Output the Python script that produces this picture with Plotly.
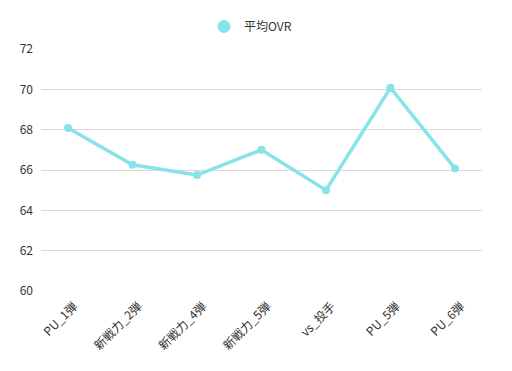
import plotly.graph_objects as go

categories = ["PU_1弾", "新戦力_2弾", "新戦力_4弾", "新戦力_5弾", "vs_投手", "PU_5弾", "PU_6弾"]
avg_ovr = [68.08, 66.26, 65.75, 67.0, 65.0, 70.08, 66.08]
y_ticks = [60, 62, 64, 66, 68, 70, 72]
series_name = "平均OVR"

color = "#86E3E6"
font_family = "Noto Sans CJK JP, Noto Sans, sans-serif"

fig = go.Figure()
fig.add_trace(go.Scatter(
    x=categories, y=avg_ovr, mode="lines+markers", name=series_name,
    line=dict(color=color, width=3.5),
    marker=dict(color=color, size=8),
    showlegend=False,
))
# legend entry shown as a single circle
fig.add_trace(go.Scatter(
    x=[None], y=[None], mode="markers", name=series_name,
    marker=dict(color=color, size=13), showlegend=True,
))

# page body has an 8px default margin, so the figure is sized/margined to compensate
fig.update_layout(
    width=504, height=363,
    margin=dict(l=33, r=30, t=41, b=80, autoexpand=False),
    paper_bgcolor="white", plot_bgcolor="white",
    font=dict(family=font_family, size=12, color="#333"),
    showlegend=True,
    legend=dict(orientation="h", x=0.475, xanchor="center", y=1.033, yanchor="bottom",
                font=dict(size=12, color="#333"), itemsizing="trace"),
    xaxis=dict(showgrid=False, showline=False, zeroline=False, tickangle=-45,
               ticks="", tickfont=dict(size=12, color="#333"), automargin=False,
               ticklabelshift=6, ticklabelstandoff=5),
    yaxis=dict(range=[60, 72], tickvals=y_ticks, showgrid=True, gridcolor="#d9d9d9",
               gridwidth=1, zeroline=False, showline=False, ticks="",
               tickfont=dict(size=12, color="#333"), automargin=False,
               ticklabelstandoff=7),
)

fig.write_html("out.html")
